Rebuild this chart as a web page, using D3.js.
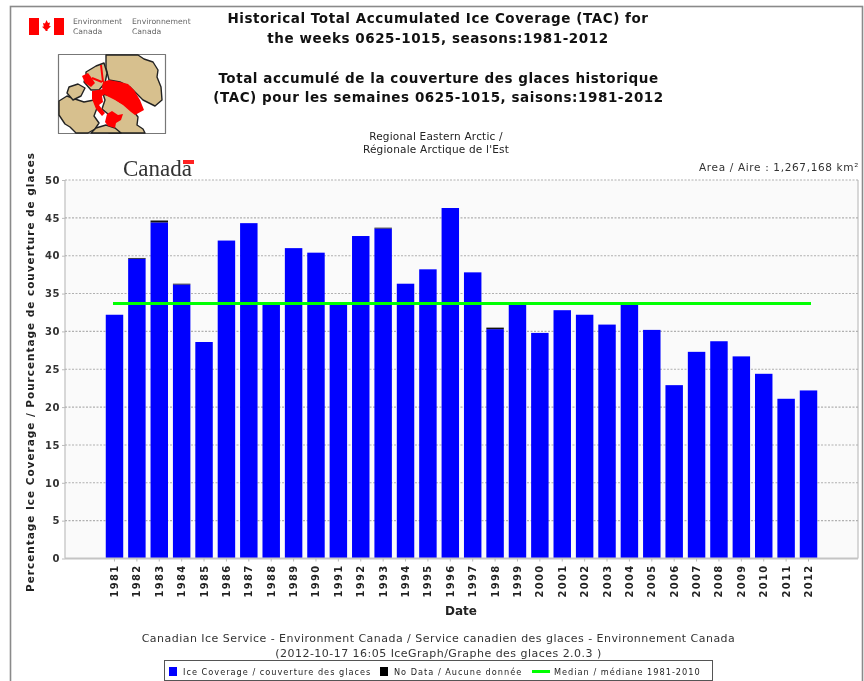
<!DOCTYPE html>
<html><head><meta charset="utf-8">
<script src="https://cdn.jsdelivr.net/npm/d3@7"></script>
<style>
html,body{margin:0;padding:0;background:#fff;overflow:hidden}
svg{display:block;filter:blur(0.55px)}
text{font-family:"DejaVu Sans",sans-serif}
</style></head><body><svg id="c" width="864" height="681"></svg>
<script>
const years = d3.range(1981,2013).map(String);
const coverage = [32.2,39.6,44.4,36.2,28.6,42,44.3,33.5,41,40.4,33.6,42.6,43.6,36.3,38.2,46.3,37.8,30.3,33.6,29.8,32.8,32.2,30.9,33.6,30.2,22.9,27.3,28.7,26.7,24.4,21.1,22.2];
const noData = [0,0.1,0.25,0.1,0,0,0,0,0,0,0,0,0.1,0,0,0,0,0.2,0,0,0,0,0,0,0,0,0,0,0,0,0,0];
const median = 33.7;
const yTicks = d3.range(0,51,5);
const titleEN = ["Historical Total Accumulated Ice Coverage (TAC) for","the weeks 0625-1015, seasons:1981-2012"];
const titleFR = ["Total accumulé de la couverture des glaces historique","(TAC) pour les semaines 0625-1015, saisons:1981-2012"];
const subtitle = ["Regional Eastern Arctic /","Régionale Arctique de l'Est"];
const footer = ["Canadian Ice Service - Environment Canada / Service canadien des glaces - Environnement Canada","(2012-10-17 16:05 IceGraph/Graphe des glaces 2.0.3 )"];
const legendItems = ["Ice Coverage / couverture des glaces","No Data / Aucune donnée","Median / médiane 1981-2010"];

const svg = d3.select("#c");
const P = {l:65,r:858,t:180,b:558.5};
const x = d3.scaleBand().domain(years).range([103.3,819.7]).paddingInner(0.22).paddingOuter(0.11);
const y = d3.scaleLinear().domain([0,50]).range([P.b,P.t]);

// frame
svg.append("rect").attr("x",10.5).attr("y",6.5).attr("width",852).attr("height",690).attr("fill","#fff").attr("stroke","#8a8a8a").attr("stroke-width",1.6);

function centered(lines,cx,y0,lh,size,weight,fill,ls){
  lines.forEach((t,i)=>svg.append("text").attr("x",cx).attr("y",y0+i*lh).attr("text-anchor","middle")
    .attr("font-size",size).attr("font-weight",weight).attr("fill",fill).attr("letter-spacing",ls||0).text(t));
}
centered(titleEN,438,23,20,13.5,"bold","#111",0.55);
centered(titleFR,438.5,83,19,13.5,"bold","#111",0.55);
centered(subtitle,436,140,13,10.5,"normal","#222",0.2);

// header logo
const logo = svg.append("g");
logo.append("rect").attr("x",29).attr("y",18).attr("width",35).attr("height",17).attr("fill","#f00");
logo.append("rect").attr("x",39).attr("y",18).attr("width",15).attr("height",17).attr("fill","#fff");
logo.append("path").attr("d","M46.5 20l1.500 3 2-.5-.8 3.500 1.800.2-3.500 3.300v1.500h-2V30l-3.500-3.300 1.800-.2-.8-3.500 2 .5z").attr("fill","#f00");
[["Environment",73],["Canada",73],["Environnement",132],["Canada",132]].forEach((d,i)=>{
  logo.append("text").attr("x",d[1]).attr("y",i%2?34:24).attr("font-size",7.700).attr("fill","#666").text(d[0]);
});

// map thumbnail
const map = svg.append("g").attr("stroke-linejoin","round");
map.append("rect").attr("x",58.500).attr("y",54.500).attr("width",107).attr("height",79).attr("fill","#fff").attr("stroke","#777").attr("stroke-width",1.200);
const land = "#d7c08e";
const coast = (d)=>map.append("path").attr("d",d).attr("fill",land).attr("stroke","#222").attr("stroke-width",1.400);
coast("M106 55h32l6 4 9 3 5 8-1 7 4 10 1 13-7 6-12-6-13-13-10-5-11-2-3-12z");
coast("M103 94l8 2 9 6 11 6 7 9-1 8 6 4 2 4-36 0-3-4 6-7-4-8-6-5 3-9z");
coast("M59 101l8-5 8 3 9 3 10-2 3 8-3 8 5 7-4 6-7 4h-12l-6-6-5-3-6-9z");
coast("M86 72l10-6 8-3 3 10-2 10-6 7-8 0-7-8 2-6z");
coast("M69 87l9-3 7 4-4 8-8 4-6-7z");
coast("M96 128l10-3 9 3 6 5h-30z");
const ice = (d)=>map.append("path").attr("d",d).attr("fill","#f00");
ice("M103 82l6-2 11 2 8 2 6 6 6 10 4 10-9 5-4-3-8-7-8-5-8-4-4-3-1-6z");
ice("M82 76l6-3 3 4 4 6-4 4-6-4z");
ice("M92 91l11-2 4 4-5 3 1 6-4 3 6 8-3 3-6-7-4-10z");
ice("M107 114l5-3 6 4 5-1-2 6-5 3-1 5-7-2-3-4z");
map.append("path").attr("d","M101 65l2 17M92 78l10 4").attr("fill","none").attr("stroke","#f00").attr("stroke-width",2);

// Canada wordmark
svg.append("text").attr("x",123).attr("y",176).style("font-family","'Liberation Serif'").attr("font-size",23).attr("fill","#333").text("Canada");
svg.append("rect").attr("x",183).attr("y",160).attr("width",11).attr("height",4).attr("fill","#f22");

// area label
svg.append("text").attr("x",699).attr("y",171).attr("font-size",10.500).attr("fill","#333").attr("letter-spacing",0.65).text("Area / Aire : 1,267,168 km²");

// plot background
svg.append("rect").attr("x",P.l).attr("y",P.t).attr("width",P.r-P.l).attr("height",P.b-P.t).attr("fill","#fafafa");
svg.append("path").attr("d",`M${P.r} ${P.t}V${P.b}M${P.l} ${P.t}V${P.b}`).attr("stroke","#ccc").attr("stroke-width",1.500);
svg.append("g").selectAll("line").data(yTicks.filter(d=>d>0)).join("line")
  .attr("x1",P.l).attr("x2",P.r).attr("y1",d=>y(d)).attr("y2",d=>y(d))
  .attr("stroke","#b0b0b0").attr("stroke-dasharray","2 1.500").attr("stroke-width",1.100);

// bars
svg.append("g").selectAll("rect").data(years).join("rect")
  .attr("x",d=>x(d)).attr("width",x.bandwidth())
  .attr("y",(d,i)=>y(coverage[i])).attr("height",(d,i)=>y(0)-y(coverage[i]))
  .attr("fill","#0000ff");
svg.append("g").selectAll("rect").data(years).join("rect")
  .attr("x",d=>x(d)).attr("width",x.bandwidth())
  .attr("y",(d,i)=>y(coverage[i]+noData[i])).attr("height",(d,i)=>y(coverage[i])-y(coverage[i]+noData[i]))
  .attr("fill","#111");

// median
svg.append("line").attr("x1",113).attr("x2",811).attr("y1",y(median)).attr("y2",y(median)).attr("stroke","#00ff00").attr("stroke-width",3);

// axes
const yAxis = svg.append("g").attr("transform",`translate(${P.l},0)`).call(d3.axisLeft(y).tickValues(yTicks).tickSize(3).tickPadding(2));
yAxis.selectAll("text").attr("font-size",10).attr("font-weight","bold").attr("fill","#333").attr("letter-spacing",0.6);
yAxis.selectAll("line").attr("stroke","#bbb");
yAxis.select("path").attr("stroke","none");
const xAxis = svg.append("g").attr("transform",`translate(0,${P.b})`).call(d3.axisBottom(x).tickSize(3).tickPadding(4));
xAxis.selectAll("text").attr("font-size",10).attr("font-weight","bold").attr("fill","#222").attr("letter-spacing",1.3)
  .attr("text-anchor","end").attr("dy",0).attr("transform","rotate(-90)").attr("x",-6).attr("y",3.500);
xAxis.selectAll("line").attr("stroke","#bbb");
xAxis.select("path").attr("d",`M${P.l} 0H${P.r}`).attr("stroke","#c4c4c4").attr("stroke-width",2);

svg.append("text").attr("transform","translate(34,372) rotate(-90)").attr("text-anchor","middle")
  .attr("font-size",10.500).attr("font-weight","bold").attr("fill","#222").attr("letter-spacing",0.97)
  .text("Percentage Ice Coverage / Pourcentage de couverture de glaces");
svg.append("text").attr("x",461).attr("y",615).attr("text-anchor","middle").attr("font-size",12).attr("font-weight","bold").attr("fill","#222").text("Date");
centered(footer,438.500,642,15,11,"normal","#333",0.47);

// legend
const lg = svg.append("g");
lg.append("rect").attr("x",164.500).attr("y",660.500).attr("width",548).attr("height",20).attr("fill","#fff").attr("stroke","#555");
lg.append("rect").attr("x",169).attr("y",667).attr("width",8).attr("height",9).attr("fill","#0000ff");
lg.append("text").attr("x",183).attr("y",675).attr("font-size",8.200).attr("fill","#222").attr("letter-spacing",1).text(legendItems[0]);
lg.append("rect").attr("x",380).attr("y",667).attr("width",8).attr("height",9).attr("fill","#000");
lg.append("text").attr("x",394).attr("y",675).attr("font-size",8.200).attr("fill","#222").attr("letter-spacing",1).text(legendItems[1]);
lg.append("line").attr("x1",532).attr("x2",550).attr("y1",671.500).attr("y2",671.500).attr("stroke","#00ff00").attr("stroke-width",3);
lg.append("text").attr("x",554).attr("y",675).attr("font-size",8.200).attr("fill","#222").attr("letter-spacing",1).text(legendItems[2]);
</script></body></html>
